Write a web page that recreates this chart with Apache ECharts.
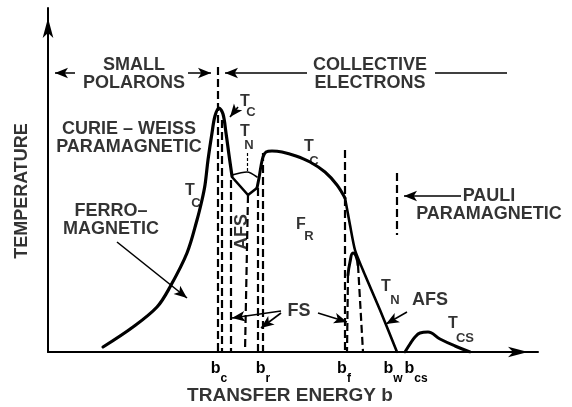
<!DOCTYPE html>
<html><head><meta charset="utf-8">
<script src="https://cdn.jsdelivr.net/npm/echarts@6/dist/echarts.min.js"></script>
<style>html,body{margin:0;padding:0;background:#fff}#c{width:572px;height:407px}</style>
</head><body><div id="c"></div>
<script>
// Schematic units: x = transfer energy b, y = temperature (arbitrary)
const xRange = [0, 490];
const yRange = [0, 344];

// Solid phase boundaries
const ferroTc = [[55,5],[85,25],[109,45],[122,65],[139,99],[149,132],[154,152],[157,167],[160,192],[164,219],[167,236],[171,244],[175,238],[178,219],[181,197],[184,176]];
const tnWedgeLow = [[184,175],[200,157],[209,164]];
const tnWedgeHigh = [[184,177],[199,180],[209,175]];
const frTc = [[209,164],[211,174],[213,186],[215,195],[218,200],[224,201],[234,200],[248,196],[262,190],[277,180],[289,167],[297,154]];
const afsTn = [[297,154],[302,127],[307,102],[317,77],[332,42],[349,0]];
const fsDome = [[300,77],[302,90],[305,99],[308,96],[310,87]];
const csTcs = [[357,0],[362,8],[367,15],[372,19],[380,20],[392,13],[407,6],[422,0]];

// Dashed boundaries
const dashedBounds = [
  [[170,285],[170,0]],
  [[174,232],[174,0]],
  [[183,172],[183,0]],
  [[200,157],[197,0]],
  [[210,164],[210,0]],
  [[215,199],[215,0]],
  [[297,202],[297,0]],
  [[300,77],[299,0]],
  [[310,87],[315,0]],
  [[349,179],[349,117]]
];

// Arrows [from, to]
const arrows = [
  [[27,279],[7,279]],
  [[140,279],[163,279]],
  [[259,279],[177,279]],
  [[190,245],[182,235]],
  [[69,110],[139,54]],
  [[233,41],[184,34]],
  [[233,39],[213,24]],
  [[270,39],[299,30]],
  [[359,40],[338,28]],
  [[413,156],[356,156]]
];
// Plain lines
const plainLines = [
  [[387,279],[459,279]]
];
const tnTick = [[199,199],[199,180]];

// Text annotations [x, y, text]
const textNotes = [
  [86, 278, 'SMALL\nPOLARONS'],
  [322, 278, 'COLLECTIVE\nELECTRONS'],
  [81, 214, 'CURIE – WEISS\nPARAMAGNETIC'],
  [63, 132, 'FERRO–\nMAGNETIC'],
  [441, 147, 'PAULI\nPARAMAGNETIC'],
  [251, 41, 'FS'],
  [382, 52, 'AFS']
];
// Subscripted labels [x, y, main, sub]
const subNotes = [
  [197, 250, 'T', 'C'],
  [197, 220, 'T', 'N'],
  [142, 161, 'T', 'C'],
  [261, 205, 'T', 'C'],
  [338, 65, 'T', 'N'],
  [405, 28, 'T', 'CS'],
  [253, 127, 'F', 'R']
];
// pixel offsets of each subscript from its main letter
const subOffsets = [[6,10],[4,13],[6,12],[5,14],[9,13],[12,14],[8,11]];
// Rotated labels [x, y, text]
const rotNotes = [
  [194, 120, 'AFS'],
  [-26, 161, 'TEMPERATURE']
];
const axisTitle = [242, -44, 'TRANSFER ENERGY b'];

// Tick labels on the b axis
const bTicks = [171, 215, 296, 345, 368];
const bSubs = ['c', 'r', 'f', 'w', 'cs'];

const FONT = 'Liberation Sans';
const INK = '#000';
const chart = echarts.init(document.getElementById('c'));

function solid(data, w, smooth) {
  return {type:'line', data, symbol:'none', smooth: smooth || 0, silent:true, z:3,
    lineStyle:{color:INK, width:w, cap:'round', join:'round'}};
}

const noteItems = textNotes.map(n=>({value:[n[0],n[1]], label:{formatter:n[2]}}))
  .concat(rotNotes.map(n=>({value:[n[0],n[1]], label:{formatter:n[2], rotate:90}})))
  .concat([{value:[axisTitle[0],axisTitle[1]], label:{formatter:axisTitle[2], fontSize:19}}]);
const subItems = [];
subNotes.forEach((n,i)=>{
  subItems.push({value:[n[0],n[1]], label:{formatter:n[2], fontSize:16}});
  subItems.push({value:[n[0],n[1]], label:{formatter:n[3], fontSize:13, offset:subOffsets[i]}});
});

const option = {
  animation:false,
  backgroundColor:'#fff',
  grid:{left:48, right:34, top:8, bottom:55, outerBoundsMode:'none'},
  xAxis:{type:'value', min:xRange[0], max:xRange[1],
    splitLine:{show:false}, axisTick:{show:false},
    axisLine:{show:true, symbol:['none','arrow'], symbolSize:[8,20], symbolOffset:[0,-10], lineStyle:{color:INK, width:2}},
    axisLabel:{show:true, customValues:bTicks, margin:9,
      formatter:(v)=>{const i=bTicks.indexOf(v); return '{b|b}{s|'+bSubs[i]+'}';},
      rich:{b:{fontSize:16, lineHeight:16, fontWeight:'bold', fontFamily:FONT, color:INK, verticalAlign:'top'},
            s:{fontSize:12, lineHeight:12, fontWeight:'bold', fontFamily:FONT, color:INK, verticalAlign:'top', padding:[12,0,0,0]}}}
  },
  yAxis:{type:'value', min:yRange[0], max:yRange[1],
    splitLine:{show:false}, axisTick:{show:false}, axisLabel:{show:false},
    axisLine:{show:true, symbol:['none','arrow'], symbolSize:[8,20], symbolOffset:[0,-10], lineStyle:{color:INK, width:2}}
  },
  series:[
    solid(ferroTc, 3.2, 0.35),
    solid(tnWedgeLow, 2.6, 0),
    solid(tnWedgeHigh, 1.6, 0.3),
    solid(frTc, 3, 0.35),
    solid(afsTn, 2.6, 0.2),
    solid(fsDome, 3, 0.5),
    solid(csTcs, 3, 0.4),
    {type:'lines', coordinateSystem:'cartesian2d', silent:true, z:2,
      lineStyle:{color:INK, width:2.2, type:[8,4], opacity:1},
      data: dashedBounds.map(c=>({coords:c}))},
    {type:'lines', coordinateSystem:'cartesian2d', silent:true, z:4,
      symbol:['none','arrow'], symbolSize:[0,[8,13]],
      lineStyle:{color:INK, width:1.6, opacity:1},
      data: arrows.map(c=>({coords:c}))},
    {type:'lines', coordinateSystem:'cartesian2d', silent:true, z:4,
      lineStyle:{color:INK, width:1.6, opacity:1},
      data: plainLines.map(c=>({coords:c}))},
    {type:'lines', coordinateSystem:'cartesian2d', silent:true, z:4,
      lineStyle:{color:INK, width:1.2, type:[3,2], opacity:1},
      data: [{coords:tnTick}]},
    {type:'scatter', symbolSize:0, silent:true, clip:false, z:5,
      label:{show:true, position:'inside', color:INK, fontFamily:FONT, fontWeight:'bold', fontSize:18, lineHeight:18, align:'center', verticalAlign:'middle'},
      data: noteItems},
    {type:'scatter', symbolSize:0, silent:true, clip:false, z:5,
      label:{show:true, position:'inside', color:INK, fontFamily:FONT, fontWeight:'bold', align:'center', verticalAlign:'middle'},
      data: subItems}
  ]
};
chart.setOption(option);
</script>
</body></html>
